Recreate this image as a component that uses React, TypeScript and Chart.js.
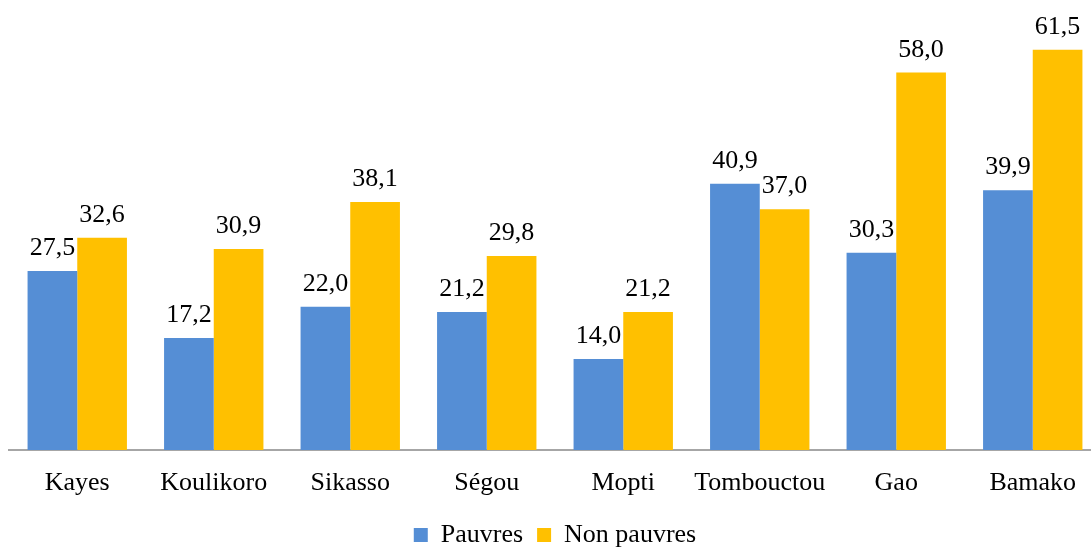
import React, { useEffect, useRef } from "react";
import { Chart, registerables } from "chart.js";

Chart.register(...registerables);

const categories = ["Kayes", "Koulikoro", "Sikasso", "Ségou", "Mopti", "Tombouctou", "Gao", "Bamako"];
const pauvres = [27.5, 17.2, 22.0, 21.2, 14.0, 40.9, 30.3, 39.9];
const nonPauvres = [32.6, 30.9, 38.1, 29.8, 21.2, 37.0, 58.0, 61.5];
const seriesNames = ["Pauvres", "Non pauvres"];

const FONT = "Liberation Serif";
const FONT_SIZE = 26;

const labelPlugin = {
  id: "valueLabels",
  afterDatasetsDraw(chart: any) {
    const ctx = chart.ctx;
    ctx.save();
    ctx.font = `${FONT_SIZE}px ${FONT}`;
    ctx.fillStyle = "#000000";
    ctx.textAlign = "center";
    ctx.textBaseline = "alphabetic";
    chart.data.datasets.forEach((ds: any, di: number) => {
      const meta = chart.getDatasetMeta(di);
      meta.data.forEach((el: any, i: number) => {
        const v = ds.data[i] as number;
        const txt = v.toFixed(1).replace(".", ",");
        ctx.fillText(txt, el.x, el.y - 16);
      });
    });
    ctx.restore();
  },
};

export default function App() {
  const ref = useRef<HTMLCanvasElement | null>(null);
  useEffect(() => {
    document.body.style.margin = "0";
    if (!ref.current) return;
    Chart.defaults.font.family = FONT;
    Chart.defaults.font.size = FONT_SIZE;
    Chart.defaults.color = "#000000";
    const chart = new Chart(ref.current, {
      type: "bar",
      data: {
        labels: categories,
        datasets: [
          { label: seriesNames[0], data: pauvres, backgroundColor: "#558ED5", borderWidth: 0 },
          { label: seriesNames[1], data: nonPauvres, backgroundColor: "#FFC000", borderWidth: 0 },
        ],
      },
      options: {
        responsive: false,
        animation: false,
        devicePixelRatio: 1,
        layout: { padding: { top: 27, left: 9, right: 9, bottom: 0 } },
        datasets: { bar: { categoryPercentage: 0.728, barPercentage: 1 } },
        scales: {
          x: {
            grid: { display: false, drawTicks: false },
            border: { display: true, color: "#a6a6a6", width: 2 },
            ticks: { color: "#000000", font: { family: FONT, size: FONT_SIZE }, padding: 18, maxRotation: 0, autoSkip: false },
            afterFit: (scale: any) => {
              scale.height = 58;
            },
          },
          y: {
            display: false,
            min: 0,
            max: 65,
          },
        },
        plugins: {
          legend: {
            position: "bottom",
            labels: {
              boxWidth: 14,
              boxHeight: 14,
              padding: 14,
              color: "#000000",
              font: { family: FONT, size: FONT_SIZE },
            },
          },
          tooltip: { enabled: false },
        },
      },
      plugins: [labelPlugin],
    });
    return () => chart.destroy();
  }, []);
  return (
    <div style={{ width: 1091, height: 548, overflow: "hidden", background: "#ffffff" }}>
      <canvas ref={ref} width={1110} height={558} style={{ width: 1110, height: 558, display: "block" }} />
    </div>
  );
}
